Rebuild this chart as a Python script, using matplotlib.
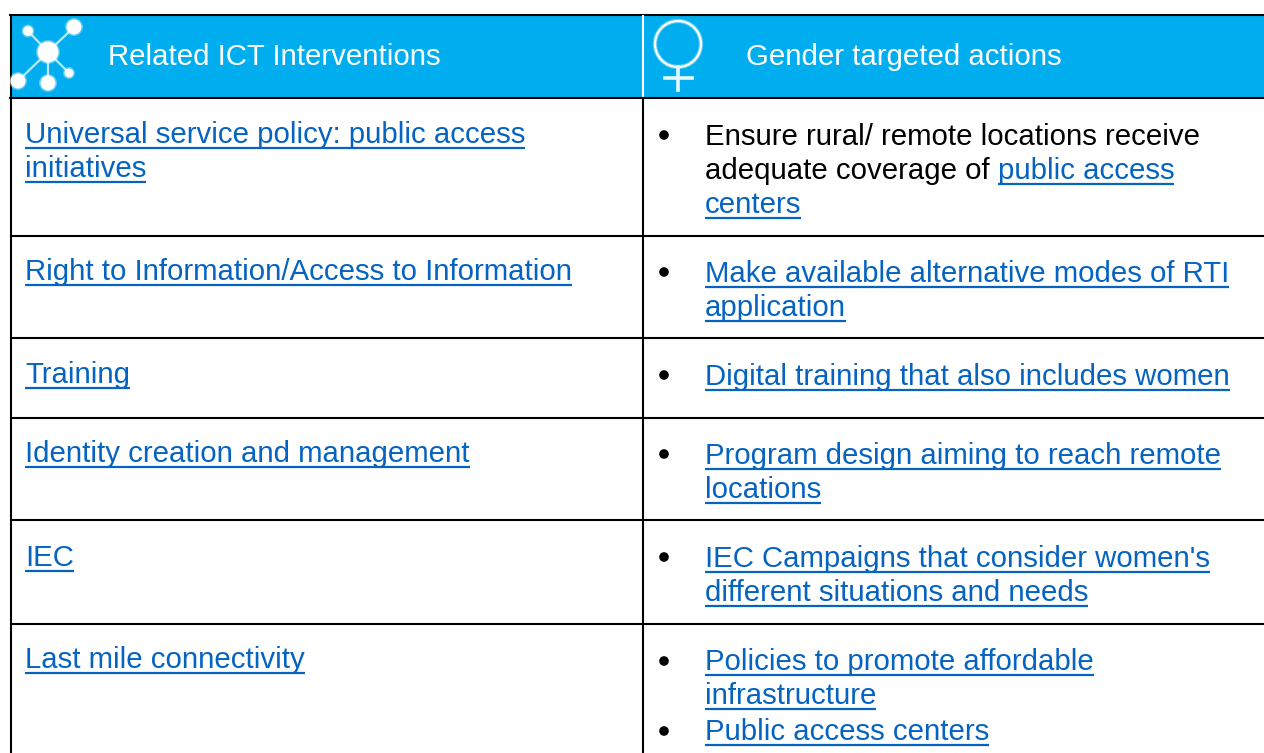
import matplotlib
matplotlib.use("Agg")
import matplotlib.pyplot as plt
from matplotlib.patches import Rectangle, Circle

plt.rcParams["font.family"] = ["Liberation Sans", "DejaVu Sans"]

BLUE = "#00AEEF"
LINK = "#0563C1"
FS = 21.2

# Table text, one entry per line, link flag says if it is a hyperlink
left_header = "Related ICT Interventions"
right_header = "Gender targeted actions"

left_rows = [
    ["Universal service policy: public access", "initiatives"],
    ["Right to Information/Access to Information"],
    ["Training"],
    ["Identity creation and management"],
    ["IEC"],
    ["Last mile connectivity"],
]

right_rows = [
    [[("Ensure rural/ remote locations receive", False)],
     [("adequate coverage of ", False), ("public access", True)],
     [("centers", True)]],
    [[("Make available alternative modes of RTI", True)], [("application", True)]],
    [[("Digital training that also includes women", True)]],
    [[("Program design aiming to reach remote", True)], [("locations", True)]],
    [[("IEC Campaigns that consider women's", True)], [("different situations and needs", True)]],
    [[("Policies to promote affordable", True)], [("infrastructure", True)]],
    [[("Public access centers", True)]],
]

# baselines in pixels
left_y = [143, 280, 383, 462, 566, 668]
right_y = [145, 282, 385, 464, 567, 670, 740]
bullet_y = [135, 272, 375, 454, 557, 661, 731]
row_lines = [236, 338, 418, 520, 624]

fig = plt.figure(figsize=(12.64, 7.53), dpi=100)
ax = fig.add_axes([0, 0, 1, 1])
ax.set_xlim(0, 1264)
ax.set_ylim(753, 0)
ax.axis("off")

LW = 1.5

# Header band
ax.add_patch(Rectangle((11, 15), 1253, 83, fc=BLUE, ec="none", zorder=1))
ax.plot([10, 1264], [15, 15], color="black", lw=LW, zorder=3)
ax.plot([10, 1264], [98, 98], color="black", lw=LW, zorder=3)
ax.plot([11, 11], [15, 753], color="black", lw=LW, zorder=3)
ax.plot([643, 643], [16, 97], color="white", lw=LW, zorder=3)
ax.plot([643, 643], [98, 753], color="black", lw=LW, zorder=3)
for y in row_lines:
    ax.plot([11, 1264], [y, y], color="black", lw=LW, zorder=3)

# Network icon, soft edges like the scaled bitmap in the original
hub = (48, 52)
nodes = [(28, 31, 5), (74, 27, 7.5), (18, 81, 7.5), (48, 83, 7.5), (69, 73, 4.5)]
for nx, ny, r in nodes:
    ax.plot([hub[0], nx], [hub[1], ny], color="#B8E9FB", lw=1.6, zorder=4)
    ax.add_patch(Circle((nx, ny), r + 1.5, fc="white", ec="none", alpha=0.35, zorder=5))
    ax.add_patch(Circle((nx, ny), r, fc="white", ec="none", zorder=5))
ax.add_patch(Circle(hub, 12, fc="white", ec="none", alpha=0.35, zorder=5))
ax.add_patch(Circle(hub, 10.5, fc="white", ec="none", zorder=5))

# Female icon
ax.add_patch(Circle((678, 44), 23, fc="none", ec="white", lw=3.2, alpha=0.35, zorder=5))
ax.add_patch(Circle((678, 44), 23, fc="none", ec="white", lw=1.6, zorder=5))
ax.plot([678, 678], [67, 90], color="#E6F8FE", lw=2.6, zorder=5)
ax.plot([665, 692], [78, 78], color="#E6F8FE", lw=2.6, zorder=5)

# Header text
ax.text(108, 65, left_header, color="white", fontsize=FS, va="baseline", zorder=6)
ax.text(746, 65, right_header, color="white", fontsize=FS, va="baseline", zorder=6)

fig.canvas.draw()
renderer = fig.canvas.get_renderer()


def put_line(x, y, segments):
    for s, is_link in segments:
        t = ax.text(x, y, s, color=LINK if is_link else "black", fontsize=FS,
                    va="baseline", zorder=6)
        w = t.get_window_extent(renderer).width
        if is_link:
            ax.plot([x, x + w], [y + 5, y + 5], color=LINK, lw=1.6,
                    solid_capstyle="butt", zorder=6)
        x += w


for y, lines in zip(left_y, left_rows):
    for i, line in enumerate(lines):
        put_line(25, y + i * 34, [(line, True)])

for y, by, lines in zip(right_y, bullet_y, right_rows):
    ax.add_patch(Circle((664, by), 4.8, fc="black", ec="none", zorder=6))
    for i, segs in enumerate(lines):
        put_line(705, y + i * 34, segs)

fig.savefig("out.png", dpi=100)
